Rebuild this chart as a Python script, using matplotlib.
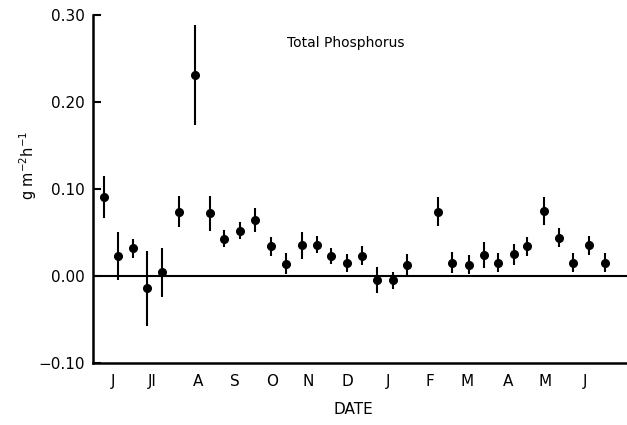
import numpy as np
import matplotlib.pyplot as plt

# sampling dates, in months after start of June (0 = J, 1 = Jl, ...)
date = np.array([-0.23, 0.12, 0.52, 0.88, 1.26, 1.69, 2.08, 2.46, 2.83, 3.22, 3.62,
                 4.02, 4.39, 4.80, 5.19, 5.55, 5.96, 6.33, 6.71, 7.12, 7.48,
                 8.27, 8.63, 9.05, 9.43, 9.79, 10.20, 10.54, 10.95, 11.34, 11.70,
                 12.10, 12.50])
flux = np.array([0.091, 0.023, 0.032, -0.014, 0.004, 0.074, 0.231, 0.072, 0.043, 0.052, 0.064,
                 0.034, 0.014, 0.035, 0.036, 0.023, 0.015, 0.023, -0.005, -0.005, 0.013,
                 0.074, 0.015, 0.013, 0.024, 0.015, 0.025, 0.034, 0.075, 0.044, 0.015,
                 0.035, 0.015])
err = np.array([0.024, 0.028, 0.011, 0.043, 0.028, 0.018, 0.057, 0.020, 0.010, 0.010, 0.014,
                0.011, 0.012, 0.015, 0.010, 0.009, 0.010, 0.011, 0.015, 0.010, 0.012,
                0.017, 0.012, 0.011, 0.015, 0.011, 0.012, 0.011, 0.016, 0.011, 0.011,
                0.011, 0.011])

months = ['J', 'Jl', 'A', 'S', 'O', 'N', 'D', 'J', 'F', 'M', 'A', 'M', 'J']
month_pos = [0, 0.99, 2.16, 3.10, 4.04, 4.96, 5.97, 6.99, 8.05, 9.0, 10.04, 10.98, 12]

fig = plt.figure(figsize=(6.27, 4.25), dpi=100)
ax = fig.add_axes([0.148, 0.146, 0.852, 0.819])

ax.errorbar(date, flux, yerr=err, fmt='o', color='black', markersize=5.5,
            elinewidth=1.5, capsize=0)
ax.axhline(0, color='black', lw=1.5)

ax.set_xlim(-0.51, 13.07)
ax.set_ylim(-0.10, 0.30)
ax.set_yticks([-0.10, 0.00, 0.10, 0.20, 0.30])
ax.set_yticklabels(['\u22120.10', '0.00', '0.10', '0.20', '0.30'])
ax.set_xticks(month_pos)
ax.set_xticklabels(months)
ax.tick_params(axis='y', direction='in', length=6, width=1.5, labelsize=11, pad=6)
ax.tick_params(axis='x', length=0, labelsize=11, pad=8)

for s in ['top', 'right']:
    ax.spines[s].set_visible(False)
ax.spines['left'].set_linewidth(1.8)
ax.spines['bottom'].set_linewidth(1.8)

fig.text(0.552, 0.90, 'Total Phosphorus', ha='center', va='center', fontsize=10)
fig.text(0.563, 0.018, 'DATE', ha='center', va='bottom', fontsize=11)
fig.text(0.045, 0.61, r'g m$^{-2}$h$^{-1}$', rotation=90, ha='center', va='center', fontsize=10.5)

plt.savefig('out.png', dpi=100)
